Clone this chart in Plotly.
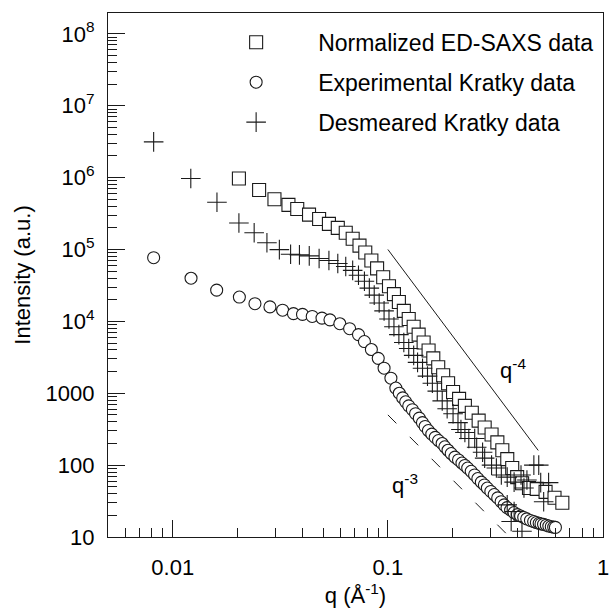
import math
import plotly.graph_objects as go

# ---------------- data ----------------
# Normalized ED-SAXS data (open squares)
sq_q = [0.0203, 0.0252, 0.0297, 0.0345, 0.0379, 0.0430, 0.0479, 0.0532, 0.0585, 0.0637,
        0.0686, 0.0738, 0.0785, 0.0838, 0.0891, 0.0951, 0.1012, 0.1067, 0.1125, 0.1186,
        0.1250, 0.1318, 0.1390, 0.1466, 0.1546, 0.1626, 0.1714, 0.1807, 0.1905, 0.2009,
        0.2143, 0.2280, 0.2455, 0.2642, 0.2818, 0.3034, 0.3228, 0.3404, 0.3589, 0.3784,
        0.3990, 0.4207, 0.4529, 0.4920, 0.5408, 0.5951, 0.6471]
sq_I = [973000, 671000, 501000, 418000, 365000, 305000, 266000, 227000, 200000, 171000,
        141000, 113000, 90600, 70300, 54600, 41000, 30800, 23900, 18600, 14000,
        10800, 8410, 6530, 5070, 3940, 3060, 2300, 1780, 1380, 1040,
        835, 668, 535, 416, 333, 267, 207, 161, 121, 91,
        68, 56, 48, 46.7, 42.5, 35.1, 30.0]

# Experimental Kratky data (open circles)
ci_q = [0.00815, 0.01216, 0.0160, 0.0204, 0.0241, 0.0283, 0.0324, 0.0364, 0.0401, 0.0445,
        0.0494, 0.0538, 0.0598, 0.0664, 0.0730, 0.0778, 0.0838, 0.0902, 0.0960, 0.1033,
        0.1089, 0.113, 0.1172, 0.121, 0.1250, 0.130, 0.1345, 0.140, 0.1448, 0.149,
        0.1543, 0.160, 0.1660, 0.172, 0.1787, 0.184, 0.1904, 0.197, 0.205, 0.213,
        0.221, 0.228, 0.235, 0.244, 0.253, 0.262, 0.272, 0.281, 0.290, 0.301,
        0.312, 0.324, 0.336, 0.347, 0.358, 0.372, 0.386, 0.400, 0.414, 0.428,
        0.442, 0.460, 0.476, 0.490, 0.505, 0.515, 0.529, 0.545, 0.560, 0.575,
        0.590, 0.601]
ci_I = [76900, 39800, 27200, 21800, 17600, 15900, 14300, 12800, 12500, 11700,
        11100, 10500, 9270, 7910, 6540, 5240, 4060, 3060, 2230, 1620,
        1180, 1000, 861, 760, 668, 590, 519, 450, 390, 345,
        303, 270, 243, 220, 200, 180, 161, 145, 129, 118,
        107, 99, 91, 82, 73, 65, 58, 53, 48, 43,
        39, 35, 31, 28, 25.6, 23.6, 21.9, 20.5, 19.6, 18.7,
        17.9, 17.0, 16.4, 15.9, 15.5, 15.2, 15.0, 14.6, 14.2, 13.9,
        13.7, 13.6]

# Desmeared Kratky data (crosses)
cr_q = [0.00815, 0.01213, 0.01605, 0.0203, 0.0239, 0.0274, 0.0313, 0.0353, 0.0388, 0.0431,
        0.0479, 0.0532, 0.0585, 0.0637, 0.0686, 0.0730, 0.0778, 0.0820, 0.0864, 0.0911,
        0.0960, 0.1012, 0.1067, 0.1125, 0.1186, 0.1250, 0.1318, 0.1374, 0.1449, 0.1528,
        0.1610, 0.1697, 0.1789, 0.1886, 0.2009, 0.2118, 0.2186, 0.2280, 0.2378, 0.2533,
        0.2587, 0.2756, 0.2818, 0.3034, 0.3194, 0.3368, 0.3587, 0.3862, 0.4158, 0.4430,
        0.4291, 0.4771, 0.5134, 0.5586, 0.5299, 0.3587, 0.3862, 0.3742, 0.4201, 0.5027]
cr_I = [3140000, 973000, 455000, 234000, 171000, 124000, 99600, 85800, 84200, 81500,
        74800, 70300, 63900, 58100, 51200, 43700, 36100, 29000, 23200, 18000,
        14000, 10800, 8410, 6530, 5070, 4200, 3360, 2690, 2230, 1730,
        1380, 1070, 783, 608, 519, 390, 313, 284, 235, 235,
        177, 151, 125, 100, 91, 73, 68, 58, 73, 62,
        48, 100, 57, 57, 31, 28, 22.6, 16.4, 12, 100]

# Power-law guide lines
q4_q = [0.1, 0.5]
q4_I = [100000, 160]
q3_q = [0.1, 0.368]
q3_I = [500, 10]

# Axis ticks
x_tickvals = [0.01, 0.1, 1]
x_ticktext = ["0.01", "0.1", "1"]
x_minor = [m * 10.0 ** e for e in (-3, -2, -1) for m in range(2, 10)]
y_tickvals = [10, 100, 1000, 1e4, 1e5, 1e6, 1e7, 1e8]
y_ticktext = ["10", "100", "1000", "10<sup>4</sup>", "10<sup>5</sup>",
              "10<sup>6</sup>", "10<sup>7</sup>", "10<sup>8</sup>"]
y_minor = [m * 10.0 ** e for e in range(1, 9) for m in range(2, 10)]

FONT = "Liberation Sans, Arial, Helvetica, sans-serif"
INK = "#1a1a1a"

fig = go.Figure()

fig.add_trace(go.Scatter(
    x=sq_q, y=sq_I, mode="markers", name="Normalized ED-SAXS data",
    legendgroup="a",
    marker=dict(symbol="square", size=13, color="white", line=dict(color=INK, width=1.1))))
fig.add_trace(go.Scatter(
    x=ci_q, y=ci_I, mode="markers", name="Experimental Kratky data",
    legendgroup="b",
    marker=dict(symbol="circle", size=12, color="white", line=dict(color=INK, width=1.1))))
fig.add_trace(go.Scatter(
    x=cr_q, y=cr_I, mode="markers", name="Desmeared Kratky data",
    legendgroup="c",
    marker=dict(symbol="cross-thin", size=14, color=INK, line=dict(color=INK, width=1.1))))

fig.add_trace(go.Scatter(x=q4_q, y=q4_I, mode="lines", showlegend=False,
                         line=dict(color=INK, width=1)))
fig.add_trace(go.Scatter(x=q3_q, y=q3_I, mode="lines", showlegend=False,
                         line=dict(color=INK, width=1, dash="12px,19px")))

fig.add_annotation(x=math.log10(0.38), y=math.log10(2200), text="q<sup>-4</sup>",
                   showarrow=False, font=dict(family=FONT, size=22, color="black"))
fig.add_annotation(x=math.log10(0.12), y=math.log10(55), text="q<sup>-3</sup>",
                   showarrow=False, font=dict(family=FONT, size=22, color="black"))

axis_common = dict(
    type="log", showgrid=False, zeroline=False, showline=True, linecolor=INK,
    linewidth=1.3, mirror=True, ticks="inside", ticklen=17, tickwidth=1.2,
    tickcolor=INK, tickfont=dict(family=FONT, size=22, color="black"),
)

fig.update_layout(
    width=616, height=608,
    margin=dict(l=108, r=7, t=13, b=65),
    paper_bgcolor="white", plot_bgcolor="white",
    font=dict(family=FONT, size=22, color="black"),
    xaxis=dict(axis_common, range=[math.log10(0.005), 0],
               tickmode="array", tickvals=x_tickvals, ticktext=x_ticktext,
               minor=dict(tickmode="array", tickvals=x_minor, ticks="inside",
                          ticklen=9, tickwidth=1.2, tickcolor=INK, showgrid=False),
               ticklabelstandoff=10,
               title=dict(text="q (Å<sup>-1</sup>)", font=dict(family=FONT, size=22),
                          standoff=6)),
    yaxis=dict(axis_common, range=[1, 8.29],
               tickmode="array", tickvals=y_tickvals, ticktext=y_ticktext,
               minor=dict(tickmode="array", tickvals=y_minor, ticks="inside",
                          ticklen=9, tickwidth=1.2, tickcolor=INK, showgrid=False),
               ticklabelstandoff=8,
               title=dict(text="Intensity (a.u.)", font=dict(family=FONT, size=22),
                          standoff=8)),
    legend=dict(x=0.174, y=0.985, xanchor="left", yanchor="top",
                bgcolor="rgba(0,0,0,0)", borderwidth=0,
                font=dict(family=FONT, size=23, color="black"),
                itemwidth=114, tracegroupgap=7, traceorder="grouped"),
)

fig.write_html("out.html")
